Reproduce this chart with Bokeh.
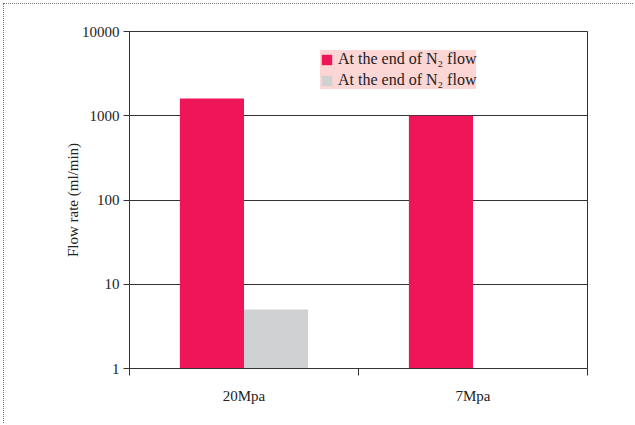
from bokeh.plotting import figure
from bokeh.models import FixedTicker, Legend, LegendItem, ColumnDataSource
from bokeh.transform import dodge
from bokeh.embed import file_html
from bokeh.resources import INLINE

categories = ["20Mpa", "7Mpa"]
series_a = [1600, 1000]          # At the end of N2 flow (red)
series_b = [5, float("nan")]     # At the end of N2 flow (gray)
y_ticks = [1, 10, 100, 1000, 10000]
series_names = ["At the end of N\u2082 flow", "At the end of N\u2082 flow"]

xc = [i + 0.5 for i in range(len(categories))]
src = ColumnDataSource(dict(x=xc, a=series_a, b=series_b))

FONT = "Liberation Serif"

p = figure(width=630, height=420, output_backend="svg", toolbar_location=None,
           y_axis_type="log", x_range=(0, len(categories)), y_range=(1, 10000),
           min_border_left=125, min_border_right=47, min_border_top=27, min_border_bottom=56)
p.styles = {"margin-left": "3px", "margin-top": "3px",
            "border-left": "1px dotted #777777", "border-top": "1px dotted #777777"}

r1 = p.vbar(x=dodge("x", -0.14), top="a", bottom=1, width=0.28, source=src,
            fill_color="#EE1558", line_color=None)
r2 = p.vbar(x=dodge("x", 0.14), top="b", bottom=1, width=0.28, source=src,
            fill_color="#D0D1D3", line_color=None)

p.outline_line_color = "#333333"
p.outline_line_width = 1
p.background_fill_color = "white"
p.border_fill_color = "white"

# x axis
p.xaxis.ticker = FixedTicker(ticks=xc, minor_ticks=list(range(len(categories) + 1)))
p.xaxis.major_label_overrides = {x: c for x, c in zip(xc, categories)}
p.xaxis.major_tick_out = 0
p.xaxis.major_tick_in = 0
p.xaxis.minor_tick_out = 7
p.xaxis.minor_tick_in = 0
p.xaxis.axis_line_color = "#333333"
p.xaxis.minor_tick_line_color = "#333333"
p.xaxis.major_label_standoff = 12
p.xaxis.major_label_text_font = FONT
p.xaxis.major_label_text_font_size = "15px"
p.xaxis.major_label_text_color = "#222222"
p.xgrid.grid_line_color = None

# y axis
p.yaxis.ticker = FixedTicker(ticks=y_ticks, minor_ticks=[])
p.yaxis.major_label_overrides = {t: str(t) for t in y_ticks}
p.yaxis.major_tick_out = 6
p.yaxis.major_tick_in = 0
p.yaxis.axis_line_color = "#333333"
p.yaxis.major_tick_line_color = "#333333"
p.yaxis.major_label_text_font = FONT
p.yaxis.major_label_text_font_size = "15px"
p.yaxis.major_label_text_color = "#222222"
p.yaxis.major_label_standoff = 4
p.yaxis.axis_label = "Flow rate (ml/min)"
p.yaxis.axis_label_text_font = FONT
p.yaxis.axis_label_text_font_style = "normal"
p.yaxis.axis_label_text_font_size = "15px"
p.yaxis.axis_label_text_color = "#222222"
p.yaxis.axis_label_standoff = -2
p.ygrid.grid_line_color = "#333333"
p.ygrid.grid_line_width = 1

legend = Legend(items=[LegendItem(label=series_names[0], renderers=[r1]),
                       LegendItem(label=series_names[1], renderers=[r2])],
                location=(191, 279))
legend.background_fill_color = "#FCD5D5"
legend.background_fill_alpha = 1
legend.border_line_color = None
legend.label_text_font = FONT
legend.label_text_font_size = "16px"
legend.label_text_color = "#222222"
legend.glyph_width = 13
legend.glyph_height = 13
legend.label_standoff = 5
legend.spacing = 3
legend.padding = 6
legend.margin = 0
legend.label_height = 17
p.add_layout(legend, "center")

open("out.html", "w").write(file_html(p, INLINE))
